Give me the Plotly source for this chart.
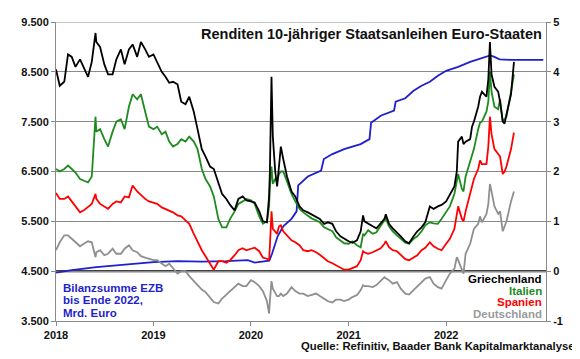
import plotly.graph_objects as go

# ---------------- data ----------------
dates = [
    "2018-01-01","2018-01-15","2018-02-01","2018-02-15","2018-03-01","2018-03-15","2018-04-01","2018-04-15",
    "2018-05-01","2018-05-15","2018-05-29","2018-06-01","2018-06-15","2018-07-01","2018-07-15","2018-08-01",
    "2018-08-15","2018-09-01","2018-09-15","2018-10-01","2018-10-15","2018-11-01","2018-11-15","2018-12-01","2018-12-15",
    "2019-01-01","2019-01-15","2019-02-01","2019-02-15","2019-03-01","2019-03-15","2019-04-01","2019-04-15",
    "2019-05-01","2019-05-15","2019-06-01","2019-06-15","2019-07-01","2019-07-15","2019-08-01","2019-08-15",
    "2019-09-01","2019-09-15","2019-10-01","2019-10-15","2019-11-01","2019-11-15","2019-12-01","2019-12-15",
    "2020-01-01","2020-01-15","2020-02-01","2020-02-15","2020-03-01","2020-03-09","2020-03-12","2020-03-18",
    "2020-03-23","2020-04-01","2020-04-08","2020-04-15","2020-04-22","2020-05-01","2020-05-15","2020-06-01",
    "2020-06-15","2020-07-01","2020-07-15","2020-08-01","2020-08-15","2020-09-01","2020-09-15","2020-10-01",
    "2020-10-15","2020-11-01","2020-11-15","2020-12-01","2020-12-15",
    "2021-01-01","2021-01-15","2021-02-01","2021-02-15","2021-02-24","2021-03-01","2021-03-15","2021-04-01",
    "2021-04-15","2021-05-01","2021-05-15","2021-05-20","2021-06-01","2021-06-15","2021-07-01","2021-07-15",
    "2021-08-01","2021-08-15","2021-09-01","2021-09-15","2021-10-01","2021-10-15","2021-11-01","2021-11-15",
    "2021-12-01","2021-12-15",
    "2022-01-01","2022-01-15","2022-02-01","2022-02-10","2022-02-15","2022-03-01","2022-03-07","2022-03-15",
    "2022-04-01","2022-04-08","2022-04-15","2022-05-01","2022-05-08","2022-05-15","2022-06-01","2022-06-08",
    "2022-06-14","2022-06-20","2022-07-01","2022-07-15","2022-07-22","2022-08-01","2022-08-08","2022-08-15",
    "2022-09-01","2022-09-12",
]

griechenland = [
    4.05, 3.72, 3.8, 4.35, 4.3, 4.1, 4.25, 4.1, 3.9, 4.2, 4.78, 4.6, 4.5, 4.15, 3.95, 3.95, 4.25, 4.45, 4.15, 4.45, 4.55, 4.3, 4.6, 4.45, 4.3,
    4.35, 4.2, 4.0, 3.9, 3.78, 3.8, 3.75, 3.4, 3.35, 3.5, 3.2, 2.85, 2.45, 2.3, 2.1, 2.05, 1.75, 1.55, 1.45, 1.33, 1.22, 1.45, 1.5, 1.42,
    1.4, 1.38, 1.2, 1.0, 0.98, 1.5, 2.0, 3.9, 2.7, 2.0, 1.7, 2.2, 2.5, 2.25, 1.9, 1.6, 1.5, 1.3, 1.22, 1.18, 1.14, 1.08, 1.05, 0.95, 0.98, 0.95, 0.8, 0.7, 0.65,
    0.6, 0.57, 0.62, 0.8, 1.12, 1.0, 0.95, 0.9, 0.86, 0.95, 1.05, 1.14, 0.95, 0.86, 0.78, 0.7, 0.6, 0.56, 0.7, 0.8, 0.88, 0.98, 1.3, 1.25, 1.3, 1.33,
    1.4, 1.53, 1.7, 2.0, 2.6, 2.7, 2.55, 2.6, 2.65, 2.9, 3.0, 3.3, 3.5, 3.6, 3.5, 3.85, 4.6, 3.95, 3.7, 3.6, 3.4, 3.0, 2.96, 3.15, 3.55, 4.2,
]

italien = [
    2.05, 2.0, 2.05, 2.12, 2.05, 1.98, 1.85, 1.82, 1.78, 1.9, 3.1, 2.8, 2.85, 2.65, 2.5, 2.8, 3.0, 3.05, 2.85, 3.3, 3.55, 3.45, 3.55, 3.2, 2.9,
    2.85, 2.9, 2.75, 2.8, 2.6, 2.5, 2.55, 2.65, 2.6, 2.7, 2.6, 2.45, 2.05, 1.85, 1.7, 1.5, 1.05, 0.88, 0.88, 1.05, 1.2, 1.35, 1.4, 1.45,
    1.42, 1.35, 1.1, 0.95, 1.0, 1.3, 1.7, 2.1, 1.75, 1.85, 1.8, 1.95, 2.0, 2.0, 1.8, 1.55, 1.4, 1.25, 1.18, 1.12, 1.06, 1.02, 0.98, 0.88, 0.85, 0.8, 0.68, 0.62, 0.56,
    0.55, 0.6, 0.52, 0.48, 0.75, 0.72, 0.82, 0.75, 0.78, 0.9, 1.0, 1.06, 0.9, 0.8, 0.72, 0.65, 0.57, 0.55, 0.65, 0.7, 0.8, 0.92, 0.98, 0.96, 0.95, 1.05,
    1.2, 1.3, 1.55, 1.85, 1.95, 1.65, 1.6, 1.9, 2.2, 2.35, 2.45, 2.85, 2.98, 3.0, 3.2, 3.4, 4.0, 3.6, 3.3, 3.25, 3.45, 3.0, 3.05, 3.1, 3.6, 3.95,
]

spanien = [
    1.57, 1.45, 1.45, 1.5, 1.4, 1.3, 1.18, 1.22, 1.28, 1.35, 1.55, 1.45, 1.35, 1.3, 1.25, 1.35, 1.4, 1.38, 1.5, 1.48, 1.72, 1.6, 1.52, 1.45, 1.4,
    1.38, 1.35, 1.28, 1.25, 1.22, 1.18, 1.12, 1.1, 1.02, 0.95, 0.75, 0.58, 0.42, 0.3, 0.15, 0.03, 0.2, 0.2, 0.17, 0.22, 0.32, 0.42, 0.46, 0.42,
    0.45, 0.47, 0.4, 0.27, 0.25, 0.22, 0.5, 1.2, 0.85, 0.78, 0.75, 0.9, 0.92, 0.8, 0.72, 0.62, 0.58, 0.52, 0.42, 0.4, 0.42, 0.38, 0.33, 0.27, 0.2, 0.16, 0.12, 0.08, 0.03,
    0.03, 0.06, 0.1, 0.22, 0.4, 0.38, 0.35, 0.38, 0.42, 0.46, 0.55, 0.6, 0.48, 0.42, 0.4, 0.32, 0.24, 0.22, 0.27, 0.32, 0.42, 0.47, 0.58, 0.5, 0.45, 0.42,
    0.55, 0.65, 0.85, 1.2, 1.3, 1.05, 1.0, 1.2, 1.55, 1.7, 1.85, 2.05, 2.22, 2.15, 2.15, 2.5, 3.1, 2.75, 2.45, 2.35, 2.3, 1.95, 2.0, 2.1, 2.45, 2.78,
]

deutschland = [
    0.42, 0.58, 0.72, 0.72, 0.65, 0.58, 0.5, 0.55, 0.6, 0.58, 0.28, 0.38, 0.42, 0.32, 0.35, 0.45, 0.35, 0.35, 0.45, 0.52, 0.42, 0.38, 0.3, 0.27, 0.25,
    0.22, 0.22, 0.15, 0.1, 0.15, 0.05, -0.05, 0.0, 0.0, -0.1, -0.2, -0.28, -0.37, -0.42, -0.52, -0.62, -0.65, -0.55, -0.47, -0.4, -0.33, -0.25, -0.3, -0.3,
    -0.18, -0.22, -0.3, -0.4, -0.6, -0.85, -0.6, -0.2, -0.35, -0.45, -0.5, -0.5, -0.45, -0.5, -0.45, -0.32, -0.4, -0.45, -0.45, -0.5, -0.48, -0.45, -0.5, -0.55, -0.6, -0.63, -0.57, -0.57, -0.6,
    -0.57, -0.52, -0.48, -0.38, -0.28, -0.3, -0.3, -0.32, -0.28, -0.2, -0.12, -0.14, -0.18, -0.25, -0.22, -0.35, -0.45, -0.47, -0.38, -0.3, -0.22, -0.15, -0.12, -0.25, -0.32, -0.35,
    -0.18, -0.05, 0.05, 0.28, 0.22, 0.05, -0.05, 0.35, 0.55, 0.7, 0.85, 0.95, 1.1, 0.98, 1.15, 1.35, 1.75, 1.6, 1.3, 1.15, 1.2, 0.8, 0.9, 1.0, 1.4, 1.6,
]

# ECB balance sheet (thousand bn EUR -> shown as 4.500 ... 9.500 Mrd.)
ezb_dates = [
    "2018-01-01","2018-03-01","2018-06-01","2018-09-01","2018-12-01","2019-01-01","2019-04-01","2019-07-01",
    "2019-10-01","2019-12-20","2020-01-15","2020-03-10","2020-03-20","2020-04-10","2020-05-01","2020-06-01",
    "2020-06-20","2020-06-26","2020-08-01","2020-09-20","2020-09-30","2020-11-01","2020-12-15","2021-01-15",
    "2021-02-15","2021-03-20","2021-03-26","2021-05-01","2021-06-20","2021-06-26","2021-08-01","2021-09-01",
    "2021-10-01","2021-11-01","2021-12-01","2022-01-01","2022-02-15","2022-04-01","2022-05-15","2022-06-15",
    "2022-07-01","2022-07-20","2022-09-01","2022-12-31",
]
ezb_bilanz = [
    4.47, 4.52, 4.58, 4.62, 4.66, 4.68, 4.70, 4.69,
    4.70, 4.72, 4.67, 4.71, 4.85, 5.20, 5.40, 5.55,
    5.70, 6.22, 6.40, 6.52, 6.75, 6.85, 6.95, 7.00,
    7.05, 7.15, 7.48, 7.62, 7.72, 7.90, 7.97, 8.12,
    8.22, 8.30, 8.42, 8.52, 8.60, 8.70, 8.78, 8.83,
    8.80, 8.75, 8.74, 8.74,
]

left_ticks = [3.5, 4.5, 5.5, 6.5, 7.5, 8.5, 9.5]
left_labels = ["3.500", "4.500", "5.500", "6.500", "7.500", "8.500", "9.500"]
right_ticks = [-1, 0, 1, 2, 3, 4, 5]
right_labels = ["-1", "0", "1", "2", "3", "4", "5"]
year_ticks = ["2018-01-01", "2019-01-01", "2020-01-01", "2021-01-01", "2022-01-01"]
year_labels = ["2018", "2019", "2020", "2021", "2022"]

assert len(dates) == len(griechenland) == len(italien) == len(spanien) == len(deutschland)
assert len(ezb_dates) == len(ezb_bilanz)

# ---------------- styles ----------------
FONT = "Arial, Liberation Sans, sans-serif"
C_GR, C_IT, C_ES, C_DE, C_EZB = "#000000", "#1e8b1e", "#ff0000", "#8f8f8f", "#1f1fcc"
GRID = "#8a8a8a"
LW = 1.8

fig = go.Figure()
fig.add_trace(go.Scatter(x=ezb_dates, y=ezb_bilanz, mode="lines", yaxis="y",
                         line=dict(color=C_EZB, width=LW), name="EZB"))
for name, vals, col in [("Deutschland", deutschland, C_DE), ("Spanien", spanien, C_ES),
                        ("Italien", italien, C_IT), ("Griechenland", griechenland, C_GR)]:
    fig.add_trace(go.Scatter(x=dates, y=vals, mode="lines", yaxis="y2",
                             line=dict(color=col, width=LW), name=name))

tickfont = dict(family=FONT, size=11, color="#111111", weight="bold")

# the page body has an 8px default margin, so the figure is sized/offset to compensate
fig.update_layout(
    width=572, height=351,
    margin=dict(l=48, r=34, t=8, b=38),
    paper_bgcolor="white", plot_bgcolor="white",
    showlegend=False, hovermode=False,
    xaxis=dict(type="date", range=["2018-01-01", "2023-01-10"],
               tickvals=year_ticks, ticktext=year_labels,
               showgrid=False, zeroline=False, showline=True, linecolor=GRID, linewidth=1,
               ticks="outside", ticklen=4, tickcolor=GRID, tickfont=tickfont),
    yaxis=dict(range=[3.5, 9.5], tickvals=left_ticks, ticktext=left_labels,
               showgrid=True, gridcolor=GRID, gridwidth=1, zeroline=False,
               showline=True, linecolor=GRID, linewidth=1,
               ticks="outside", ticklen=4, tickcolor=GRID, tickfont=tickfont),
    yaxis2=dict(range=[-1, 5], tickvals=right_ticks, ticktext=right_labels,
                overlaying="y", side="right", showgrid=False, zeroline=False,
                showline=True, linecolor=GRID, linewidth=1,
                ticks="outside", ticklen=4, tickcolor=GRID, tickfont=tickfont),
)

# thick baseline at 4.500 / 0 and top border line
fig.add_shape(type="line", xref="paper", yref="y", x0=0, x1=1, y0=4.5, y1=4.5,
              line=dict(color="#000000", width=2), layer="below")
fig.add_shape(type="line", xref="paper", yref="y", x0=0, x1=1, y0=9.5, y1=9.5,
              line=dict(color=GRID, width=1), layer="below")

def ann(text, x, y, color, size, xanchor):
    fig.add_annotation(text=text, x=x, y=y, xref="paper", yref="paper", showarrow=False,
                       xanchor=xanchor, yanchor="middle",
                       font=dict(family=FONT, size=size, color=color, weight="bold"))

ann("Renditen 10-jähriger Staatsanleihen Euro-Staaten", 0.995, 0.961, "#111111", 14.5, "right")
ann("Griechenland", 0.995, 0.141, C_GR, 11.5, "right")
ann("Italien", 0.995, 0.102, C_IT, 11.5, "right")
ann("Spanien", 0.995, 0.062, C_ES, 11.5, "right")
ann("Deutschland", 0.995, 0.023, "#9a9a9a", 11.5, "right")
ann("Bilanzsumme EZB", 0.011, 0.111, C_EZB, 11.5, "left")
ann("bis Ende 2022,", 0.011, 0.069, C_EZB, 11.5, "left")
ann("Mrd. Euro", 0.011, 0.028, C_EZB, 11.5, "left")
ann("Quelle: Refinitiv, Baader Bank Kapitalmarktanalyse", 1.063, -0.085, "#111111", 11.3, "right")

fig.write_html("out.html")
